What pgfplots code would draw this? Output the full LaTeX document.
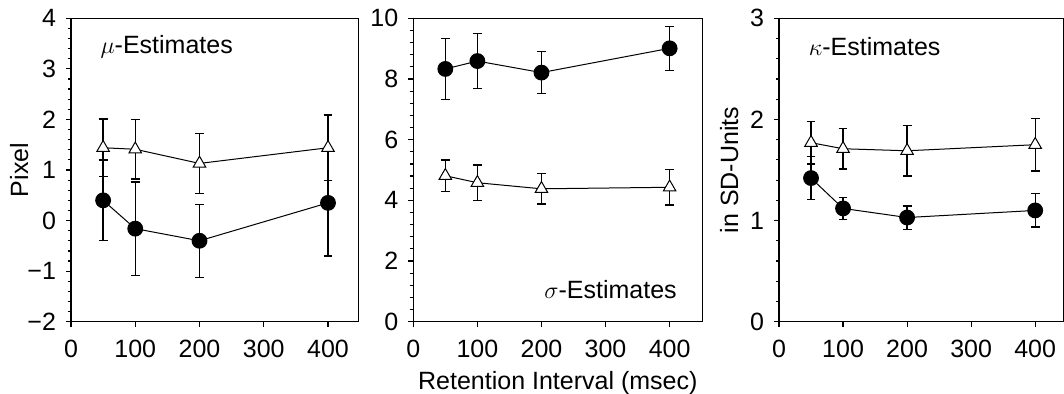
\documentclass[border=0pt]{standalone}
\usepackage{pgfplots}
\pgfplotsset{compat=1.18}
\usepackage{fontspec}
\setmainfont{Liberation Sans}
\pgfplotsset{
  myax/.style={
    scale only axis, height=151.7pt,
    xmin=0, xtick={0,100,200,300,400},
    tick align=outside, xtick pos=bottom, ytick pos=left,
    minor y tick num=4,
    major tick length=2.5pt, minor tick length=1.6pt,
    axis line style={line width=0.6pt},
    every tick/.style={black, line width=0.6pt},
    /pgf/number format/assume math mode=true,
    tick label style={font=\fontsize{12.5}{14}\selectfont},
    xticklabel style={yshift=-3pt},
    yticklabel style={xshift=-1.5pt},
    label style={font=\fontsize{12.5}{14}\selectfont},
    ylabel style={at={(axis description cs:-0.18,0.5)}, anchor=center, rotate=0},
    clip=false,
  },
  circ/.style={black, line width=0.5pt, mark=*, mark size=3.7pt,
    mark options={fill=black, solid},
    error bars/.cd, y dir=both, y explicit,
    error bar style={line width=0.65pt, black},
    error mark options={rotate=90, mark size=2.2pt, line width=0.65pt, black}},
  tri/.style={black, line width=0.5pt, mark=triangle*, mark size=3.6pt,
    mark options={fill=white, solid},
    error bars/.cd, y dir=both, y explicit,
    error bar style={line width=0.65pt, black},
    error mark options={rotate=90, mark size=2.2pt, line width=0.65pt, black}},
}
\pgfplotstableread{
x y e
50 0.40 0.80
100 -0.16 0.92
200 -0.40 0.72
400 0.35 1.05
}\muCirc
\pgfplotstableread{
x y e
50 1.44 0.57
100 1.41 0.59
200 1.13 0.59
400 1.44 0.65
}\muTri
\pgfplotstableread{
x y e
50 8.33 1.00
100 8.59 0.90
200 8.21 0.70
400 9.01 0.72
}\sigCirc
\pgfplotstableread{
x y e
50 4.81 0.52
100 4.58 0.58
200 4.38 0.50
400 4.43 0.58
}\sigTri
\pgfplotstableread{
x y e
50 1.42 0.21
100 1.12 0.11
200 1.03 0.115
400 1.10 0.165
}\kapCirc
\pgfplotstableread{
x y e
50 1.77 0.21
100 1.71 0.20
200 1.69 0.25
400 1.75 0.26
}\kapTri
\begin{document}
\begin{tikzpicture}[font=\fontsize{12.5}{14}\selectfont]
\path[use as bounding box] (0,0) rectangle (532pt,197pt);
% Panel 1
\begin{axis}[myax, at={(35.5pt,36.15pt)}, anchor=south west, width=143.6pt,
  xmax=447, ymin=-2, ymax=4, ytick={-2,-1,0,1,2,3,4},
  yticklabels={−2,−1,0,1,2,3,4}, ylabel={Pixel}]
\addplot[tri] table[x=x,y=y,y error=e] {\muTri};
\addplot[circ] table[x=x,y=y,y error=e] {\muCirc};
\node[anchor=west] at (axis cs:35,3.43) {$\mu$-Estimates};
\end{axis}
% Panel 2
\begin{axis}[myax, at={(206.65pt,36.15pt)}, anchor=south west, width=144.5pt,
  xmax=451, ymin=0, ymax=10, ytick={0,2,4,6,8,10},
  xlabel={Retention Interval (msec)}]
\addplot[tri] table[x=x,y=y,y error=e] {\sigTri};
\addplot[circ] table[x=x,y=y,y error=e] {\sigCirc};
\node[anchor=east] at (axis cs:422,1.05) {$\sigma$-Estimates};
\end{axis}
% Panel 3
\begin{axis}[myax, at={(389.5pt,36.15pt)}, anchor=south west, width=142.5pt,
  xmax=445, ymin=0, ymax=3, ytick={0,1,2,3},
  ylabel={in SD-Units}, ylabel style={at={(axis description cs:-0.175,0.5)}}]
\addplot[tri] table[x=x,y=y,y error=e] {\kapTri};
\addplot[circ] table[x=x,y=y,y error=e] {\kapCirc};
\node[anchor=west] at (axis cs:35.5,2.72) {$\kappa$-Estimates};
\end{axis}
\end{tikzpicture}
\end{document}
